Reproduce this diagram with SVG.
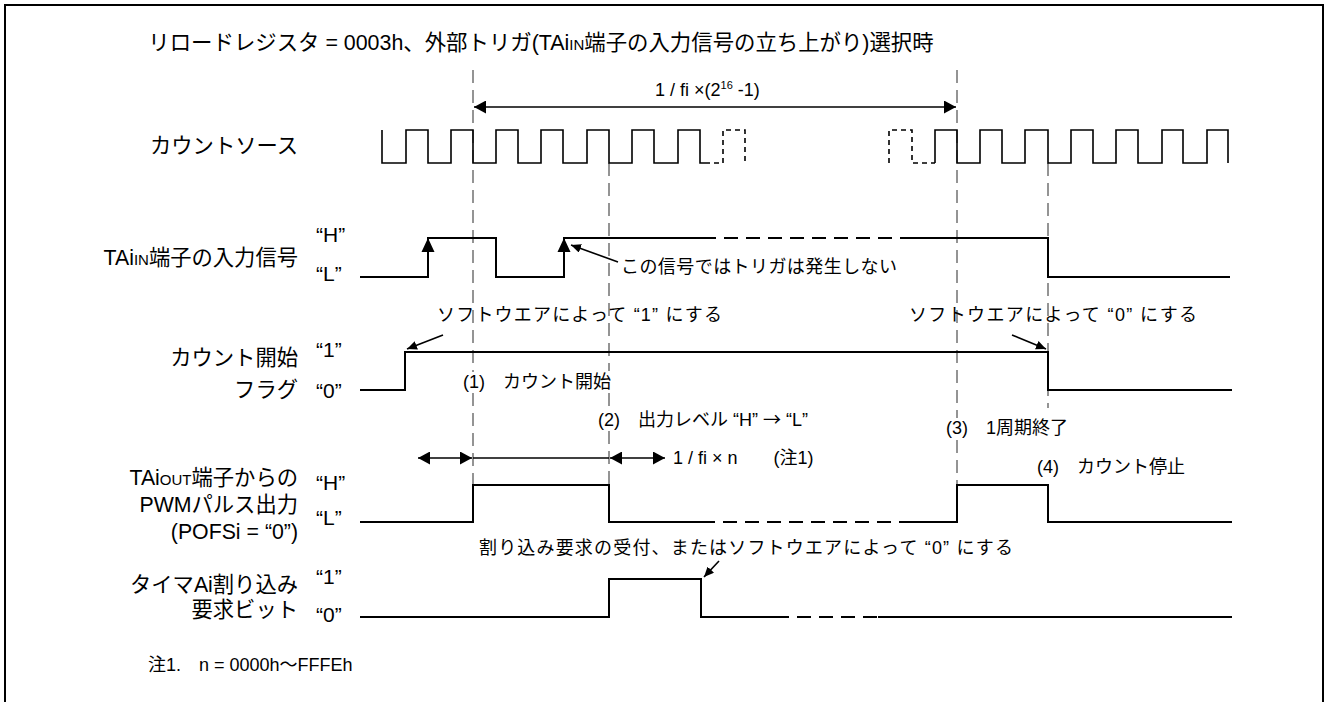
<svg xmlns="http://www.w3.org/2000/svg" width="1328" height="702" viewBox="0 0 1328 702">
<style>
text{font-family:"Liberation Sans","Noto Sans CJK JP",sans-serif;fill:#000}
.lbl{font-size:21.3px;text-anchor:end}
.q{font-size:21px}
.ann{font-size:18px}
.cjk{font-family:"Noto Sans CJK JP",sans-serif}
.sig{fill:none;stroke:#000;stroke-width:2}
.sigd{fill:none;stroke:#000;stroke-width:2;stroke-dasharray:14 8}
.clk{fill:none;stroke:#000;stroke-width:1.6}
.clkd{fill:none;stroke:#000;stroke-width:1.6;stroke-dasharray:5 4}
.guide{fill:none;stroke:#7a7a7a;stroke-width:1.6;stroke-dasharray:13 7}
.dim{fill:none;stroke:#000;stroke-width:1.6}
</style>
<defs>
<marker id="ah" markerWidth="12" markerHeight="13" refX="12" refY="6.5" orient="auto-start-reverse" markerUnits="userSpaceOnUse">
<path d="M0,0 L12,6.5 L0,13 z" fill="#000"/>
</marker>
<marker id="sah" markerWidth="10" markerHeight="9" refX="10" refY="4.5" orient="auto" markerUnits="userSpaceOnUse">
<path d="M0,0 L10,4.5 L0,9 z" fill="#000"/>
</marker>
</defs>
<rect x="5" y="5" width="1318" height="760" fill="none" stroke="#000" stroke-width="2"/>
<text x="541" y="50" style="font-size:21.4px" text-anchor="middle">リロードレジスタ = 0003h、外部トリガ(TAi<tspan style="font-size:15px">IN</tspan>端子の入力信号の立ち上がり)選択時</text>

<g id="guides">
<path class="guide" d="M473,70 V372 M473,393 V485"/>
<path class="guide" d="M957,70 V418 M957,440 V485"/>
<path class="guide" d="M609,163 V371 M609,393 V409 M609,431 V485"/>
<path class="guide" d="M1048,163 V408"/>
</g>

<g id="period">
<line class="dim" x1="474" y1="107" x2="956" y2="107" marker-start="url(#ah)" marker-end="url(#ah)"/>
<text x="655" y="96" class="ann">1 / fi ×(2<tspan dy="-7" style="font-size:11px">16</tspan><tspan dy="7"> -1)</tspan></text>
</g>

<g id="count-source">
<text x="298" y="153" class="lbl">カウントソース</text>
<path class="clk" d="M382,130 V163 H406 V130 H428 V163 H451 V130 H473 V163 H496 V130 H518 V163 H541 V130 H563 V163 H587 V130 H609 V163 H632 V130 H654 V163 H678 V130 H700 V163 H705"/>
<path class="clkd" d="M705,163 H723 V130 H745 V163 M889,163 V130 H912 V163 H935"/>
<path class="clk" d="M935,163 V130 H957 V163 H980 V130 H1002 V163 H1025 V130 H1048 V163 H1071 V130 H1093 V163 H1116 V130 H1138 V163 H1162 V130 H1183 V163 H1207 V130 H1228 V163"/>
</g>

<g id="tain">
<text x="298" y="265" class="lbl">TAi<tspan style="font-size:15px">IN</tspan>端子の入力信号</text>
<text x="316" y="242" class="q">“H”</text>
<text x="316" y="281" class="q">“L”</text>
<path class="sig" d="M360,277 H428 V238 H496 V277 H564 V238 H702"/>
<path class="sigd" d="M702,238 H912"/>
<path class="sig" d="M912,238 H1048 V277 H1230"/>
<path d="M428,238 L421.5,252 L434.5,252 z M564,238 L557.5,252 L570.5,252 z" fill="#000"/>
<line class="dim" x1="618" y1="262" x2="571" y2="245" marker-end="url(#sah)"/>
<text x="621" y="273" class="ann" textLength="276" lengthAdjust="spacing">この信号ではトリガは発生しない</text>
</g>

<g id="count-flag">
<text x="298" y="365" class="lbl">カウント開始</text>
<text x="298" y="397" class="lbl">フラグ</text>
<text x="316" y="357" class="q">“1”</text>
<text x="316" y="398" class="q">“0”</text>
<path class="sig" d="M360,390 H405 V352 H1048 V390 H1232"/>
<text x="437" y="321" class="ann" textLength="285" lengthAdjust="spacing">ソフトウエアによって “1” にする</text>
<line class="dim" x1="443" y1="335" x2="407" y2="349" marker-end="url(#sah)"/>
<text x="909" y="321" class="ann" textLength="288" lengthAdjust="spacing">ソフトウエアによって “0” にする</text>
<line class="dim" x1="1012" y1="335" x2="1046" y2="349" marker-end="url(#sah)"/>
</g>

<g id="events">
<text x="463" y="388" class="ann">(1)　カウント開始</text>
<text x="598" y="426" class="ann">(2)　出力レベル “H” <tspan class="cjk">→</tspan> “L”</text>
<text x="946" y="434" class="ann">(3)　1周期終了</text>
<text x="1037" y="473" class="ann">(4)　カウント停止</text>
</g>

<g id="width-dims">
<line class="dim" x1="418" y1="458" x2="472" y2="458" marker-start="url(#ah)" marker-end="url(#ah)"/>
<line class="dim" x1="473" y1="458" x2="609" y2="458"/>
<line class="dim" x1="610" y1="458" x2="665" y2="458" marker-start="url(#ah)" marker-end="url(#ah)"/>
<text x="673" y="464" class="ann">1 / fi × n　　(注1)</text>
</g>

<g id="pwm">
<text x="298" y="485" class="lbl">TAi<tspan style="font-size:15px">OUT</tspan>端子からの</text>
<text x="298" y="512" class="lbl">PWMパルス出力</text>
<text x="298" y="539" class="lbl">(POFSi = “0”)</text>
<text x="316" y="490" class="q">“H”</text>
<text x="316" y="525" class="q">“L”</text>
<path class="sig" d="M360,522 H473 V485 H609 V522 H701"/>
<path class="sigd" d="M701,522 H900"/>
<path class="sig" d="M900,522 H957 V485 H1048 V522 H1232"/>
</g>

<g id="interrupt">
<text x="298" y="592" class="lbl">タイマAi割り込み</text>
<text x="298" y="617" class="lbl">要求ビット</text>
<text x="316" y="584" class="q">“1”</text>
<text x="316" y="622" class="q">“0”</text>
<path class="sig" d="M360,617 H609 V579 H701 V617 H775"/>
<path class="sigd" d="M775,617 H878"/>
<path class="sig" d="M878,617 H1232"/>
<text x="479" y="554" class="ann" textLength="534" lengthAdjust="spacing">割り込み要求の受付、またはソフトウエアによって “0” にする</text>
<line class="dim" x1="719" y1="561" x2="704" y2="577" marker-end="url(#sah)"/>
</g>

<text x="148" y="671" style="font-size:18px">注1.　n = 0000h～FFFEh</text>
</svg>
